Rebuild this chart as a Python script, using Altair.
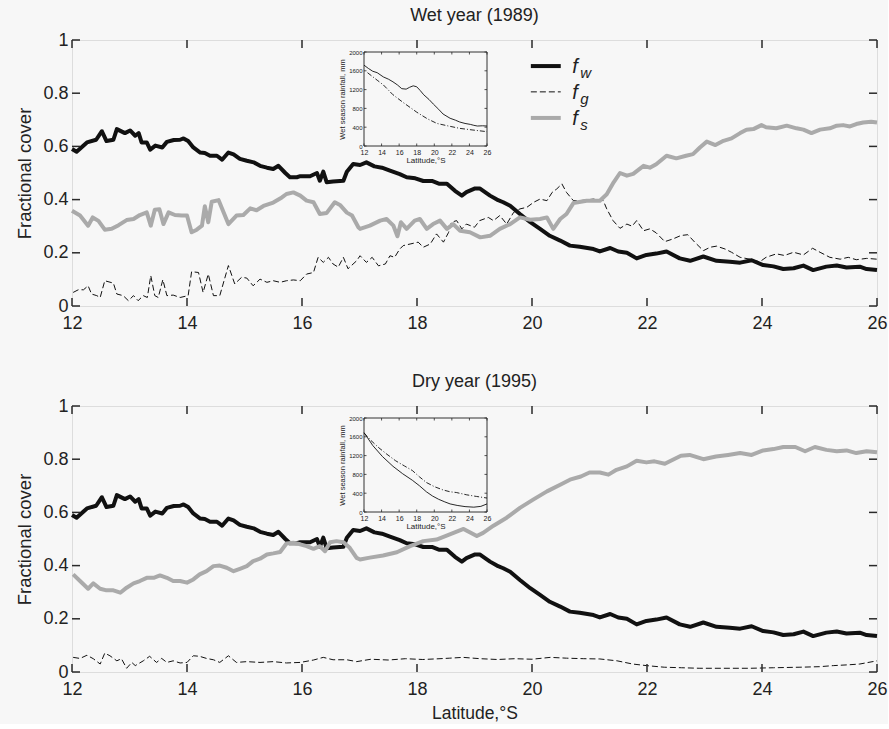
import altair as alt
import pandas as pd

# ---------------- data ----------------
X_TICKS = [12, 14, 16, 18, 20, 22, 24, 26]
Y_TICKS = [0, 0.2, 0.4, 0.6, 0.8, 1]
INSET_Y_TICKS = [0, 400, 800, 1200, 1600, 2000]

# woody cover (same in both years)
fw_lat = [12.00, 12.08, 12.26, 12.42, 12.52, 12.60, 12.72, 12.78, 12.92, 13.01, 13.10, 13.16, 13.21,
          13.30, 13.36, 13.45, 13.57, 13.65, 13.77, 13.88, 13.94, 14.02, 14.11, 14.23, 14.31, 14.40,
          14.52, 14.61, 14.72, 14.81, 14.92, 15.04, 15.16, 15.27, 15.39, 15.50, 15.59, 15.71, 15.79,
          15.91, 15.97, 16.14, 16.26, 16.31, 16.37, 16.43, 16.54, 16.72, 16.78, 16.89, 17.01, 17.12,
          17.26, 17.39, 17.53, 17.70, 17.82, 17.97, 18.11, 18.26, 18.38, 18.52, 18.66, 18.78, 18.86,
          19.01, 19.09, 19.27, 19.39, 19.50, 19.62, 19.79, 19.97, 20.14, 20.31, 20.49, 20.66, 20.83,
          21.07, 21.18, 21.36, 21.50, 21.65, 21.82, 21.99, 22.16, 22.34, 22.57, 22.75, 22.98, 23.21,
          23.44, 23.62, 23.82, 24.02, 24.20, 24.37, 24.55, 24.72, 24.89, 25.12, 25.30, 25.47, 25.70,
          25.82, 26.00]
fw_val = [0.590, 0.580, 0.615, 0.625, 0.657, 0.620, 0.625, 0.665, 0.650, 0.660, 0.640, 0.650, 0.615,
          0.615, 0.588, 0.603, 0.596, 0.617, 0.624, 0.625, 0.630, 0.620, 0.596, 0.577, 0.575, 0.565,
          0.565, 0.550, 0.577, 0.570, 0.553, 0.546, 0.540, 0.527, 0.520, 0.515, 0.527, 0.500, 0.484,
          0.484, 0.488, 0.488, 0.500, 0.471, 0.505, 0.465, 0.468, 0.471, 0.505, 0.534, 0.530, 0.540,
          0.525, 0.520, 0.509, 0.496, 0.484, 0.480, 0.470, 0.470, 0.460, 0.460, 0.433, 0.415, 0.428,
          0.442, 0.442, 0.415, 0.400, 0.390, 0.377, 0.346, 0.315, 0.290, 0.264, 0.246, 0.227, 0.223,
          0.214, 0.205, 0.218, 0.205, 0.200, 0.179, 0.192, 0.197, 0.205, 0.179, 0.170, 0.186, 0.170,
          0.166, 0.163, 0.172, 0.154, 0.149, 0.139, 0.142, 0.152, 0.135, 0.148, 0.152, 0.145, 0.148,
          0.139, 0.135]

# wet year 1989
fg_wet_lat = [12.02, 12.11, 12.20, 12.28, 12.34, 12.43, 12.49, 12.57, 12.72, 12.78, 12.89, 12.98, 13.07,
              13.15, 13.24, 13.31, 13.37, 13.44, 13.50, 13.58, 13.65, 13.76, 13.88, 14.02, 14.08, 14.20,
              14.28, 14.37, 14.46, 14.57, 14.72, 14.83, 14.95, 15.04, 15.15, 15.27, 15.39, 15.50, 15.62,
              15.73, 15.85, 15.97, 16.08, 16.20, 16.28, 16.37, 16.46, 16.54, 16.63, 16.72, 16.80, 16.95,
              17.01, 17.12, 17.22, 17.33, 17.45, 17.53, 17.61, 17.70, 17.76, 17.88, 18.02, 18.11, 18.23,
              18.34, 18.46, 18.55, 18.60, 18.69, 18.78, 18.86, 19.00, 19.09, 19.24, 19.33, 19.44, 19.56,
              19.68, 19.79, 19.91, 20.03, 20.14, 20.26, 20.35, 20.43, 20.52, 20.60, 20.72, 20.83, 21.07,
              21.24, 21.30, 21.41, 21.53, 21.65, 21.74, 21.82, 21.94, 22.05, 22.16, 22.31, 22.45, 22.59,
              22.71, 22.83, 22.98, 23.10, 23.21, 23.36, 23.47, 23.62, 23.79, 23.96, 24.07, 24.25, 24.39,
              24.55, 24.72, 24.88, 25.01, 25.18, 25.36, 25.50, 25.64, 25.82, 26.00]
fg_wet_val = [0.051, 0.061, 0.061, 0.076, 0.045, 0.039, 0.032, 0.095, 0.086, 0.045, 0.039, 0.020, 0.039,
              0.020, 0.039, 0.032, 0.114, 0.039, 0.032, 0.099, 0.039, 0.041, 0.032, 0.039, 0.129, 0.126,
              0.051, 0.120, 0.039, 0.039, 0.152, 0.083, 0.108, 0.105, 0.076, 0.101, 0.089, 0.095, 0.089,
              0.095, 0.098, 0.095, 0.120, 0.126, 0.183, 0.164, 0.183, 0.158, 0.146, 0.183, 0.140, 0.170,
              0.189, 0.164, 0.183, 0.151, 0.158, 0.189, 0.183, 0.214, 0.227, 0.233, 0.240, 0.221, 0.233,
              0.271, 0.240, 0.277, 0.315, 0.321, 0.290, 0.308, 0.296, 0.321, 0.333, 0.321, 0.340, 0.308,
              0.352, 0.365, 0.371, 0.390, 0.402, 0.396, 0.427, 0.440, 0.459, 0.427, 0.396, 0.396, 0.402,
              0.396, 0.365, 0.321, 0.292, 0.308, 0.300, 0.321, 0.283, 0.290, 0.275, 0.242, 0.252, 0.265,
              0.268, 0.240, 0.208, 0.221, 0.225, 0.214, 0.202, 0.183, 0.176, 0.166, 0.183, 0.196, 0.190,
              0.202, 0.192, 0.217, 0.202, 0.183, 0.176, 0.183, 0.174, 0.179, 0.176]

fs_wet_lat = [12.00, 12.14, 12.28, 12.36, 12.46, 12.57, 12.69, 12.81, 12.95, 13.07, 13.18, 13.30, 13.37,
              13.44, 13.52, 13.59, 13.68, 13.79, 13.91, 14.00, 14.08, 14.17, 14.26, 14.31, 14.37, 14.43,
              14.55, 14.72, 14.86, 14.98, 15.10, 15.21, 15.33, 15.50, 15.65, 15.73, 15.85, 15.97, 16.08,
              16.20, 16.31, 16.43, 16.57, 16.66, 16.78, 16.87, 16.98, 17.01, 17.18, 17.36, 17.47, 17.59,
              17.66, 17.72, 17.82, 17.96, 18.05, 18.17, 18.28, 18.40, 18.52, 18.63, 18.75, 18.92, 19.10,
              19.27, 19.44, 19.62, 19.79, 19.97, 20.14, 20.26, 20.37, 20.49, 20.60, 20.72, 20.95, 21.18,
              21.30, 21.42, 21.53, 21.65, 21.76, 21.94, 22.05, 22.16, 22.34, 22.51, 22.68, 22.80, 22.92,
              23.04, 23.19, 23.33, 23.47, 23.62, 23.73, 23.85, 23.99, 24.07, 24.25, 24.43, 24.60, 24.72,
              24.86, 25.01, 25.18, 25.30, 25.41, 25.53, 25.64, 25.76, 25.90, 26.00]
fs_wet_val = [0.358, 0.340, 0.302, 0.333, 0.320, 0.287, 0.290, 0.304, 0.323, 0.327, 0.342, 0.352, 0.302,
              0.362, 0.364, 0.308, 0.352, 0.342, 0.340, 0.340, 0.277, 0.287, 0.302, 0.375, 0.315, 0.392,
              0.398, 0.308, 0.340, 0.342, 0.367, 0.360, 0.376, 0.389, 0.408, 0.421, 0.427, 0.415, 0.396,
              0.390, 0.346, 0.350, 0.390, 0.380, 0.351, 0.340, 0.296, 0.290, 0.302, 0.321, 0.327, 0.302,
              0.262, 0.315, 0.290, 0.321, 0.327, 0.290, 0.308, 0.321, 0.290, 0.308, 0.283, 0.277, 0.258,
              0.264, 0.290, 0.308, 0.333, 0.324, 0.327, 0.333, 0.290, 0.327, 0.346, 0.387, 0.396, 0.396,
              0.420, 0.465, 0.500, 0.490, 0.497, 0.527, 0.520, 0.533, 0.565, 0.555, 0.565, 0.571, 0.596,
              0.618, 0.605, 0.621, 0.630, 0.650, 0.663, 0.665, 0.680, 0.672, 0.668, 0.678, 0.668, 0.663,
              0.650, 0.663, 0.668, 0.678, 0.680, 0.675, 0.684, 0.690, 0.693, 0.690]

# dry year 1995
fg_dry_lat = [12.02, 12.14, 12.26, 12.37, 12.49, 12.57, 12.66, 12.78, 12.86, 12.95, 13.04, 13.10, 13.24,
              13.35, 13.47, 13.56, 13.65, 13.76, 13.88, 14.00, 14.11, 14.22, 14.34, 14.46, 14.57, 14.72,
              14.86, 15.04, 15.27, 15.50, 15.73, 15.97, 16.20, 16.37, 16.54, 16.78, 16.95, 17.20, 17.50,
              17.80, 18.10, 18.40, 18.57, 18.80, 19.10, 19.40, 19.70, 20.00, 20.32, 20.60, 20.90, 21.18,
              21.48, 21.75, 21.99, 22.30, 22.60, 22.92, 23.30, 23.79, 24.20, 24.66, 25.00, 25.24, 25.50,
              25.70, 26.00]
fg_dry_val = [0.055, 0.051, 0.063, 0.050, 0.030, 0.071, 0.061, 0.042, 0.050, 0.014, 0.036, 0.024, 0.042,
              0.059, 0.036, 0.051, 0.036, 0.042, 0.034, 0.036, 0.061, 0.059, 0.051, 0.046, 0.036, 0.061,
              0.036, 0.039, 0.036, 0.039, 0.034, 0.036, 0.045, 0.055, 0.046, 0.046, 0.039, 0.048, 0.045,
              0.050, 0.047, 0.050, 0.052, 0.055, 0.050, 0.047, 0.050, 0.048, 0.055, 0.052, 0.050, 0.049,
              0.042, 0.030, 0.024, 0.018, 0.016, 0.014, 0.014, 0.014, 0.016, 0.018, 0.020, 0.024, 0.027,
              0.030, 0.042]

fs_dry_lat = [12.02, 12.14, 12.28, 12.37, 12.49, 12.60, 12.72, 12.84, 12.95, 13.07, 13.18, 13.30, 13.42,
              13.53, 13.65, 13.76, 13.88, 14.00, 14.11, 14.22, 14.34, 14.46, 14.57, 14.69, 14.81, 14.92,
              15.04, 15.15, 15.27, 15.39, 15.50, 15.62, 15.73, 15.85, 15.97, 16.08, 16.20, 16.31, 16.40,
              16.49, 16.60, 16.72, 16.83, 16.95, 17.01, 17.18, 17.41, 17.65, 17.88, 18.11, 18.34, 18.57,
              18.81, 19.04, 19.15, 19.33, 19.56, 19.79, 20.02, 20.26, 20.49, 20.66, 20.85, 21.00, 21.18,
              21.33, 21.47, 21.65, 21.82, 21.99, 22.13, 22.31, 22.45, 22.59, 22.74, 22.98, 23.20, 23.41,
              23.62, 23.82, 24.02, 24.20, 24.37, 24.58, 24.75, 24.92, 25.12, 25.30, 25.47, 25.64, 25.82,
              26.00]
fs_dry_val = [0.367, 0.342, 0.313, 0.333, 0.313, 0.307, 0.307, 0.298, 0.317, 0.333, 0.342, 0.354, 0.354,
              0.363, 0.354, 0.342, 0.342, 0.336, 0.348, 0.367, 0.379, 0.398, 0.400, 0.392, 0.379, 0.388,
              0.398, 0.417, 0.426, 0.442, 0.446, 0.451, 0.483, 0.486, 0.480, 0.473, 0.463, 0.473, 0.454,
              0.488, 0.492, 0.488, 0.467, 0.429, 0.423, 0.430, 0.438, 0.450, 0.473, 0.492, 0.498, 0.517,
              0.538, 0.511, 0.523, 0.550, 0.580, 0.617, 0.648, 0.679, 0.704, 0.723, 0.735, 0.750, 0.750,
              0.742, 0.760, 0.773, 0.794, 0.788, 0.792, 0.783, 0.798, 0.813, 0.816, 0.800, 0.810, 0.816,
              0.823, 0.816, 0.833, 0.838, 0.846, 0.846, 0.830, 0.846, 0.835, 0.830, 0.833, 0.823, 0.830,
              0.826]

# inset: wet season rainfall (mm)
rain_wet_a_lat = [12.0, 12.5, 13.0, 13.5, 14.2, 14.8, 15.3, 15.8, 16.3, 16.8, 17.2, 17.6, 18.0, 18.4,
                  18.8, 19.4, 19.9, 20.5, 21.0, 21.8, 22.4, 22.9, 23.5, 24.1, 24.5, 24.9, 25.5, 26.0]
rain_wet_a_val = [1720, 1650, 1590, 1560, 1470, 1420, 1365, 1300, 1220, 1210, 1250, 1280, 1260, 1180,
                  1090, 990, 890, 780, 680, 590, 550, 510, 480, 460, 440, 425, 430, 425]
rain_wet_b_lat = [12.4, 13.5, 14.2, 15.3, 16.5, 18.0, 19.2, 20.3, 21.5, 22.9, 24.4, 26.0]
rain_wet_b_val = [1560, 1400, 1300, 1090, 920, 720, 580, 480, 430, 375, 340, 305]

rain_dry_a_lat = [12.0, 13.0, 14.1, 15.3, 16.4, 17.5, 18.3, 19.1, 19.8, 20.5, 21.2, 21.8, 22.6, 23.5,
                  24.5, 25.3, 26.0]
rain_dry_a_val = [1690, 1414, 1180, 972, 814, 676, 560, 430, 340, 270, 215, 172, 140, 115, 103, 120, 172]
rain_dry_b_lat = [12.0, 12.8, 13.7, 14.6, 15.6, 16.6, 17.5, 18.3, 19.1, 20.0, 21.0, 21.8, 22.5, 23.7,
                  24.8, 26.0]
rain_dry_b_val = [1680, 1520, 1365, 1230, 1090, 980, 883, 750, 628, 540, 469, 430, 415, 365, 331, 297]

# legend entries (placed in data coordinates)
legend_lat = [19.98, 19.98, 19.98]
legend_lat2 = [20.50, 20.50, 20.50]
legend_v = [0.902, 0.805, 0.707]
legend_sub = ["w", "g", "s"]
legend_text_lat = 20.70
legend_sub_lat = 20.84

# ---------------- styling / layout ----------------
W = 805
H = 266
TICK_PX = 8
FONT = "Liberation Sans"
INK = "#222222"
BG = "#f7f7f7"
BLACK = "#111111"
GREY = "#aaaaaa"
FRAME = "#333333"
TICK_COLOR = "#2a2a2a"


def frame(lat, val):
    return pd.DataFrame({"lat": lat, "v": val})


def sx():
    return alt.Scale(domain=[12, 26], nice=False, zero=False)


def sy():
    return alt.Scale(domain=[0, 1], nice=False, zero=False)


def series_line(lat, val, color, width, dash=None):
    kw = dict(color=color, strokeWidth=width, strokeJoin="round")
    if dash:
        kw["strokeDash"] = dash
    return alt.Chart(frame(lat, val)).mark_line(**kw).encode(
        x=alt.X("lat:Q", scale=sx(), axis=None),
        y=alt.Y("v:Q", scale=sy(), axis=None),
    )


corner_df = pd.DataFrame({"lat": [12, 26], "v": [0, 1]})


def main_axis_layer(xtitle):
    xa = alt.Axis(orient="bottom", values=X_TICKS, format="d", labelFontSize=18, labelColor=INK,
                  labelFont=FONT, labelFlush=False, labelPadding=8, ticks=False, domain=False,
                  grid=False, title=xtitle, titleFontSize=17.5, titleFontWeight="normal",
                  titleColor=INK, titleFont=FONT, titlePadding=6)
    ya = alt.Axis(orient="left", values=Y_TICKS, format="~g", labelFontSize=18, labelColor=INK,
                  labelFont=FONT, labelFlush=False, labelPadding=4, ticks=False, domain=False,
                  grid=False, title="Fractional cover", titleFontSize=18.5, titleFontWeight="normal",
                  titleColor=INK, titleFont=FONT, titlePadding=8)
    return alt.Chart(corner_df).mark_point(opacity=0, size=1).encode(
        x=alt.X("lat:Q", scale=sx(), axis=xa),
        y=alt.Y("v:Q", scale=sy(), axis=ya),
    )


def tick_rules(x_scale, y_scale, xdom, ydom, xvals, yvals, w_px, h_px, length_px, width):
    """Inward tick marks on the four sides of a frame, drawn as short rules in data units."""
    dx = (xdom[1] - xdom[0]) * length_px / w_px
    dy = (ydom[1] - ydom[0]) * length_px / h_px
    xt = pd.DataFrame({"t": xvals * 2,
                       "a": [ydom[0]] * len(xvals) + [ydom[1]] * len(xvals),
                       "b": [ydom[0] + dy] * len(xvals) + [ydom[1] - dy] * len(xvals)})
    yt = pd.DataFrame({"t": yvals * 2,
                       "a": [xdom[0]] * len(yvals) + [xdom[1]] * len(yvals),
                       "b": [xdom[0] + dx] * len(yvals) + [xdom[1] - dx] * len(yvals)})
    vert = alt.Chart(xt).mark_rule(color=TICK_COLOR, strokeWidth=width).encode(
        x=alt.X("t:Q", scale=x_scale(), axis=None),
        y=alt.Y("a:Q", scale=y_scale(), axis=None), y2="b:Q")
    horiz = alt.Chart(yt).mark_rule(color=TICK_COLOR, strokeWidth=width).encode(
        y=alt.Y("t:Q", scale=y_scale(), axis=None),
        x=alt.X("a:Q", scale=x_scale(), axis=None), x2="b:Q")
    return [vert, horiz]


IN_X0, IN_X1 = 292, 415
IN_TOP, IN_BOT = 12, 106


def isx():
    return alt.Scale(domain=[12, 26], range=[IN_X0, IN_X1], nice=False, zero=False)


def isy():
    return alt.Scale(domain=[0, 2000], range=[IN_BOT, IN_TOP], nice=False, zero=False)


def inset(a_lat, a_val, b_lat, b_val):
    box_df = pd.DataFrame({"lat": [12], "lat2": [26], "r": [0], "r2": [2000]})
    xa = alt.Axis(orient="bottom", offset=-(H - IN_BOT), values=X_TICKS, format="d", labelFontSize=7,
                  labelColor=INK, labelFont=FONT, labelFlush=False, labelPadding=2, ticks=False,
                  domain=False, grid=False, title="Latitude,°S",
                  titleFontSize=8, titleFontWeight="normal", titleColor=INK, titleFont=FONT,
                  titlePadding=1)
    ya = alt.Axis(orient="left", offset=-IN_X0, values=INSET_Y_TICKS, format="d", labelFontSize=6,
                  labelColor=INK, labelFont=FONT, labelFlush=False, labelPadding=2, ticks=False,
                  domain=False, grid=False, title="Wet season rainfall, mm",
                  titleFontSize=7.5, titleFontWeight="normal", titleColor=INK, titleFont=FONT,
                  titlePadding=2)
    box = alt.Chart(box_df).mark_rect(fillOpacity=0, stroke=FRAME, strokeWidth=1).encode(
        x=alt.X("lat:Q", scale=isx(), axis=xa),
        x2="lat2:Q",
        y=alt.Y("r:Q", scale=isy(), axis=ya),
        y2="r2:Q",
    )
    ticks = tick_rules(isx, isy, [12, 26], [0, 2000], X_TICKS, INSET_Y_TICKS,
                       IN_X1 - IN_X0, IN_BOT - IN_TOP, 2.5, 0.8)
    la = alt.Chart(pd.DataFrame({"lat": a_lat, "r": a_val})).mark_line(
        color=BLACK, strokeWidth=0.9).encode(
        x=alt.X("lat:Q", scale=isx(), axis=None), y=alt.Y("r:Q", scale=isy(), axis=None))
    lb = alt.Chart(pd.DataFrame({"lat": b_lat, "r": b_val})).mark_line(
        color=BLACK, strokeWidth=0.9, strokeDash=[5, 2, 1, 2]).encode(
        x=alt.X("lat:Q", scale=isx(), axis=None), y=alt.Y("r:Q", scale=isy(), axis=None))
    return [box] + ticks + [la, lb]


def legend_layers():
    ldf = pd.DataFrame({"lat": legend_lat, "lat2": legend_lat2, "v": legend_v,
                        "sub": legend_sub, "f": ["f", "f", "f"],
                        "tl": [legend_text_lat] * 3, "sl": [legend_sub_lat] * 3})
    styles = [(BLACK, 4, None), (BLACK, 1, [6, 3]), (GREY, 4, None)]
    layers = []
    for i, (c, w, d) in enumerate(styles):
        kw = dict(color=c, strokeWidth=w)
        if d:
            kw["strokeDash"] = d
        layers.append(alt.Chart(ldf.iloc[[i]]).mark_rule(**kw).encode(
            x=alt.X("lat:Q", scale=sx(), axis=None), x2="lat2:Q",
            y=alt.Y("v:Q", scale=sy(), axis=None)))
    layers.append(alt.Chart(ldf).mark_text(align="left", baseline="middle", fontStyle="italic",
                                           fontSize=20, font=FONT, color=INK, dy=1).encode(
        x=alt.X("tl:Q", scale=sx(), axis=None), y=alt.Y("v:Q", scale=sy(), axis=None), text="f:N"))
    layers.append(alt.Chart(ldf).mark_text(align="left", baseline="middle", fontStyle="italic",
                                           fontSize=15, font=FONT, color=INK, dy=7).encode(
        x=alt.X("sl:Q", scale=sx(), axis=None), y=alt.Y("v:Q", scale=sy(), axis=None), text="sub:N"))
    return layers


def panel(title, fg_lat, fg_val, fs_lat, fs_val, rain, xtitle, with_legend):
    layers = [main_axis_layer(xtitle)]
    layers += [
        series_line(fw_lat, fw_val, BLACK, 4),
        series_line(fg_lat, fg_val, BLACK, 1, [6, 3]),
        series_line(fs_lat, fs_val, GREY, 4),
    ]
    layers += inset(*rain)
    if with_legend:
        layers += legend_layers()
    layers += tick_rules(sx, sy, [12, 26], [0, 1], X_TICKS, Y_TICKS, W, H, TICK_PX, 1.5)
    return alt.layer(*layers).resolve_scale(x="independent", y="independent").properties(
        width=W, height=H,
        title=alt.TitleParams(title, fontSize=18, fontWeight="normal", font=FONT, color=INK,
                              anchor="middle", offset=6),
    )


top = panel("Wet year (1989)", fg_wet_lat, fg_wet_val, fs_wet_lat, fs_wet_val,
            (rain_wet_a_lat, rain_wet_a_val, rain_wet_b_lat, rain_wet_b_val), None, True)
bottom = panel("Dry year (1995)", fg_dry_lat, fg_dry_val, fs_dry_lat, fs_dry_val,
               (rain_dry_a_lat, rain_dry_a_val, rain_dry_b_lat, rain_dry_b_val),
               "Latitude,°S", False)

chart = alt.vconcat(top, bottom, spacing=39).configure_view(
    stroke=FRAME, strokeWidth=1
).configure(
    background=BG, font=FONT, padding={"left": 15, "top": 6, "right": 0, "bottom": 2}
)

chart.save("out.html", embed_options={"renderer": "svg", "actions": False})
